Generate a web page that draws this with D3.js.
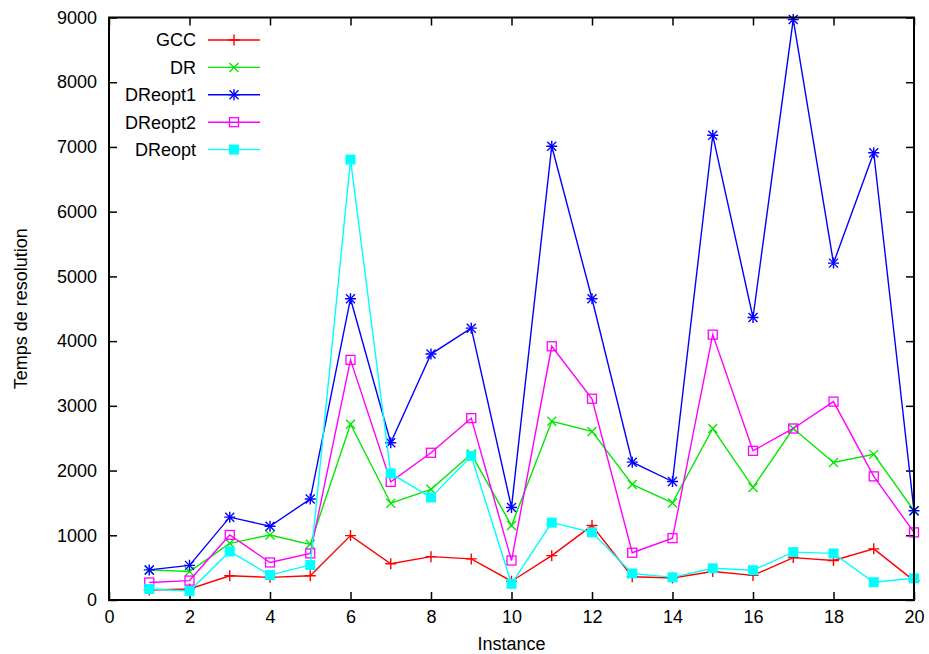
<!DOCTYPE html>
<html>
<head>
<meta charset="utf-8">
<script src="https://cdn.jsdelivr.net/npm/d3@7"></script>
<style>
  body { margin: 0; background: #fff; }
  text { font-family: "Liberation Sans", Arial, sans-serif; fill: #000; }
</style>
</head>
<body>
<div id="chart"></div>
<script>
// values
const instances = d3.range(1, 21);
const gcc     = [155, 170, 375, 350, 375, 995, 560, 670, 635, 290, 685, 1150, 360, 340, 440, 380, 655, 610, 790, 300];
const dr      = [465, 440, 875, 1005, 860, 2715, 1495, 1710, 2255, 1150, 2760, 2605, 1785, 1500, 2650, 1740, 2650, 2125, 2250, 1380];
const dreopt1 = [465, 535, 1280, 1140, 1560, 4655, 2430, 3800, 4200, 1430, 7010, 4655, 2130, 1830, 7180, 4365, 8970, 5205, 6910, 1380];
const dreopt2 = [270, 300, 1005, 580, 720, 3710, 1825, 2275, 2810, 610, 3920, 3110, 730, 955, 4100, 2305, 2650, 3065, 1910, 1045];
const dreopt  = [170, 140, 750, 385, 540, 6805, 1955, 1585, 2225, 250, 1195, 1045, 410, 350, 490, 460, 740, 720, 275, 335];
const xTicks = d3.range(0, 21, 2);
const yTicks = d3.range(0, 9001, 1000);

const series = [
  { name: "GCC",     values: gcc,     color: "#ff0000", marker: "plus" },
  { name: "DR",      values: dr,      color: "#00e800", marker: "cross" },
  { name: "DReopt1", values: dreopt1, color: "#0000ff", marker: "star" },
  { name: "DReopt2", values: dreopt2, color: "#ff00ff", marker: "box" },
  { name: "DReopt",  values: dreopt,  color: "#00ffff", marker: "fbox" }
];

const W = 929, H = 654;
const margin = { top: 17.5, right: 15, bottom: 54, left: 109 };
const fs = "18px";

const svg = d3.select("#chart").append("svg")
  .attr("width", W).attr("height", H);

const x = d3.scaleLinear().domain([0, 20]).range([margin.left, W - margin.right]);
const y = d3.scaleLinear().domain([0, 9000]).range([H - margin.bottom, margin.top]);

// axes, gnuplot style: ticks pointing inwards on every side
const tl = 8;
svg.append("g")
  .attr("transform", "translate(0," + y(0) + ")")
  .call(d3.axisBottom(x).tickValues(xTicks).tickSizeInner(-tl).tickSizeOuter(0).tickPadding(10))
  .call(g => g.select(".domain").remove())
  .call(g => g.selectAll("text").style("font-size", fs).attr("dy", "0.7em"));
svg.append("g")
  .attr("transform", "translate(0," + y(9000) + ")")
  .call(d3.axisTop(x).tickValues(xTicks).tickSizeInner(-tl).tickSizeOuter(0).tickFormat(""))
  .call(g => g.select(".domain").remove());
svg.append("g")
  .attr("transform", "translate(" + x(0) + ",0)")
  .call(d3.axisLeft(y).tickValues(yTicks).tickFormat(d3.format("d")).tickSizeInner(-tl).tickSizeOuter(0).tickPadding(12))
  .call(g => g.select(".domain").remove())
  .call(g => g.selectAll("text").style("font-size", fs));
svg.append("g")
  .attr("transform", "translate(" + x(20) + ",0)")
  .call(d3.axisRight(y).tickValues(yTicks).tickSizeInner(-tl).tickSizeOuter(0).tickFormat(""))
  .call(g => g.select(".domain").remove());
svg.selectAll(".tick line").attr("stroke", "#000").attr("stroke-width", 1.5);

// marker shapes
function drawMarker(g, type, color, cx, cy) {
  const s = 5.5;
  if (type === "plus" || type === "star") {
    g.append("path").attr("d", `M${cx - s},${cy}H${cx + s}M${cx},${cy - s}V${cy + s}`)
      .attr("stroke", color).attr("stroke-width", 1.4).attr("fill", "none");
  }
  if (type === "cross" || type === "star") {
    const c = 4.5;
    g.append("path").attr("d", `M${cx - c},${cy - c}L${cx + c},${cy + c}M${cx - c},${cy + c}L${cx + c},${cy - c}`)
      .attr("stroke", color).attr("stroke-width", 1.4).attr("fill", "none");
  }
  if (type === "box") {
    g.append("rect").attr("x", cx - 4.5).attr("y", cy - 4.5).attr("width", 9).attr("height", 9)
      .attr("stroke", color).attr("stroke-width", 1.3).attr("fill", "none");
  }
  if (type === "fbox") {
    g.append("rect").attr("x", cx - 5).attr("y", cy - 5).attr("width", 10).attr("height", 10)
      .attr("fill", color);
  }
}

const line = d3.line().x((d, i) => x(instances[i])).y(d => y(d));

series.forEach(s => {
  const g = svg.append("g");
  g.append("path").datum(s.values)
    .attr("d", line).attr("fill", "none")
    .attr("stroke", s.color).attr("stroke-width", 1.4);
  s.values.forEach((v, i) => drawMarker(g, s.marker, s.color, x(instances[i]), y(v)));
});

// legend
const legend = svg.append("g");
series.forEach((s, i) => {
  const ly = 40 + i * 27.4;
  legend.append("text").attr("x", 196).attr("y", ly).attr("dy", "0.36em")
    .attr("text-anchor", "end").style("font-size", fs).text(s.name);
  legend.append("line").attr("x1", 208).attr("x2", 260).attr("y1", ly).attr("y2", ly)
    .attr("stroke", s.color).attr("stroke-width", 1.4);
  drawMarker(legend, s.marker, s.color, 234, ly);
});

// frame
svg.append("rect")
  .attr("x", x(0)).attr("y", y(9000))
  .attr("width", x(20) - x(0)).attr("height", y(0) - y(9000))
  .attr("fill", "none").attr("stroke", "#000").attr("stroke-width", 2);

// axis titles
svg.append("text").attr("x", (x(0) + x(20)) / 2).attr("y", 644).attr("dy", "0.36em")
  .attr("text-anchor", "middle").style("font-size", fs).text("Instance");
svg.append("text")
  .attr("transform", "translate(21," + (y(0) + y(9000)) / 2 + ") rotate(-90)")
  .attr("dy", "0.36em").attr("text-anchor", "middle").style("font-size", fs)
  .text("Temps de resolution");
</script>
</body>
</html>
